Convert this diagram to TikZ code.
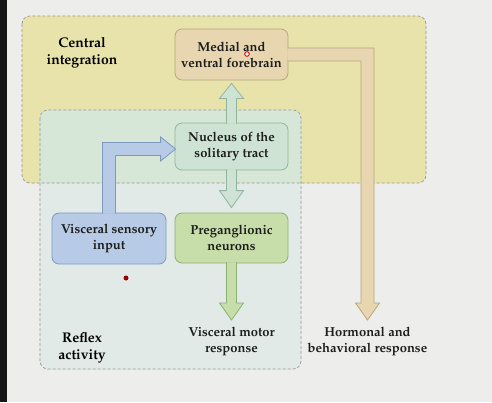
\documentclass[tikz,border=0pt]{standalone}
\usepackage[T1]{fontenc}
\usepackage{mathpazo}
\usetikzlibrary{calc,positioning}

\definecolor{bggray}{RGB}{237,237,235}
\definecolor{stripc}{RGB}{22,22,22}
\definecolor{yelfill}{RGB}{232,227,170}
\definecolor{tealfill}{RGB}{226,234,231}
\definecolor{mintfill}{RGB}{214,231,215}
\definecolor{regline}{RGB}{150,152,150}
\definecolor{tanfill}{RGB}{231,214,176}
\definecolor{tanline}{RGB}{185,165,125}
\definecolor{ntsfill}{RGB}{206,227,212}
\definecolor{ntsline}{RGB}{145,180,155}
\definecolor{prefill}{RGB}{199,222,170}
\definecolor{preline}{RGB}{140,175,115}
\definecolor{vsifill}{RGB}{183,203,230}
\definecolor{vsiline}{RGB}{125,153,192}
\definecolor{txt}{RGB}{30,30,30}

\begin{document}
\begin{tikzpicture}
[x=1pt,y=-1pt
,region/.style={draw=regline,dash pattern=on 3pt off 2pt,rounded corners=8pt,line width=0.7pt}
,bx/.style={rounded corners=7pt,minimum width=113pt,align=center,text=txt,line width=0.8pt,font=\fontsize{13}{16}\selectfont\bfseries}
,lbl/.style={align=center,text=txt,inner sep=0pt,font=\fontsize{13}{16}\selectfont\bfseries}
,rl/.style={align=center,text=black,inner sep=0pt,font=\fontsize{14}{17}\selectfont\bfseries}
,ba/.style={line width=0.8pt,line join=miter}
]
\useasboundingbox (0,0) rectangle (492,402);
\fill[bggray] (0,0) rectangle (492,402);
\fill[stripc] (0,0) rectangle (7,402);

% the two areas
\fill[yelfill,rounded corners=8pt] (22,16) rectangle (426,183);
\fill[tealfill,rounded corners=8pt] (40,110) rectangle (301,369);
\begin{scope}
\clip[rounded corners=8pt] (22,16) rectangle (426,183);
\fill[mintfill,rounded corners=8pt] (40,110) rectangle (301,369);
\end{scope}
\draw[region] (22,16) rectangle (426,183);
\draw[region] (40,110) rectangle (301,369);

\node[bx,draw=tanline,fill=tanfill,minimum height=51pt] (fb) at (231.5,54.5) {Medial and\\ventral forebrain};
\node[bx,draw=ntsline,fill=ntsfill,minimum height=47pt] (nts) at (231.5,146.5) {Nucleus of the\\solitary tract};
\node[bx,draw=preline,fill=prefill,minimum height=50pt] (pre) at (231.5,238) {Preganglionic\\neurons};
\node[bx,draw=vsiline,fill=vsifill,minimum height=51pt,minimum width=114pt] (vsi) at (109,238.5) {Visceral sensory\\input};

\coordinate (motortip) at (231.5,320);
\coordinate (hormtip) at (367.5,320);
\coordinate (hormbend) at (hormtip |- fb.east);
\coordinate (sensetip) at ($(nts.west)+(1,2.5)$);
\coordinate (sensebend) at (vsi.north |- sensetip);

\node[rl] (ci) at (82,52.5) {Central\\integration};
\node[rl] (ra) at (82,348) {Reflex\\activity};
\node[lbl,below=7pt of motortip] (vmr) {Visceral motor\\response};
\node[lbl,below=7pt of hormtip] (hbr) {Hormonal and\\behavioral response};

% block arrows
\filldraw[ba,draw=ntsline,fill=ntsfill] ($(nts.north)+(-5,1)$) -- ($(fb.south)+(-5,18)$) -- ($(fb.south)+(-12,18)$) -- ($(fb.south)+(0,3)$) -- ($(fb.south)+(12,18)$) -- ($(fb.south)+(5,18)$) -- ($(nts.north)+(5,1)$);
\filldraw[ba,draw=ntsline,fill=ntsfill] ($(nts.south)+(-5,-1)$) -- ($(pre.north)+(-5,-22)$) -- ($(pre.north)+(-12,-22)$) -- ($(pre.north)+(0,-5)$) -- ($(pre.north)+(12,-22)$) -- ($(pre.north)+(5,-22)$) -- ($(nts.south)+(5,-1)$);
\filldraw[ba,draw=preline,fill=prefill] ($(pre.south)+(-5,-1)$) -- ($(motortip)+(-5,-17)$) -- ($(motortip)+(-12,-17)$) -- (motortip) -- ($(motortip)+(12,-17)$) -- ($(motortip)+(5,-17)$) -- ($(pre.south)+(5,-1)$);
\filldraw[ba,draw=vsiline,fill=vsifill] ($(vsi.north)+(-6.5,1)$) -- ($(sensebend)+(-6.5,-6.5)$) -- ($(sensetip)+(-15,-6.5)$) -- ($(sensetip)+(-15,-12)$) -- (sensetip) -- ($(sensetip)+(-15,12)$) -- ($(sensetip)+(-15,6.5)$) -- ($(sensebend)+(6.5,6.5)$) -- ($(vsi.north)+(6.5,1)$);
\filldraw[ba,draw=tanline,fill=tanfill] ($(fb.east)+(-1,-6.5)$) -- ($(hormbend)+(6.5,-6.5)$) -- ($(hormtip)+(6.5,-17)$) -- ($(hormtip)+(12,-17)$) -- (hormtip) -- ($(hormtip)+(-12,-17)$) -- ($(hormtip)+(-6.5,-17)$) -- ($(hormbend)+(-6.5,6.5)$) -- ($(fb.east)+(-1,6.5)$);

% pointer marks
\filldraw[draw=red!85!black,fill=white,line width=0.9pt] (247,54) circle (2.3pt);
\fill[red!60!black] (126,278) circle (2.5pt);
\end{tikzpicture}
\end{document}
